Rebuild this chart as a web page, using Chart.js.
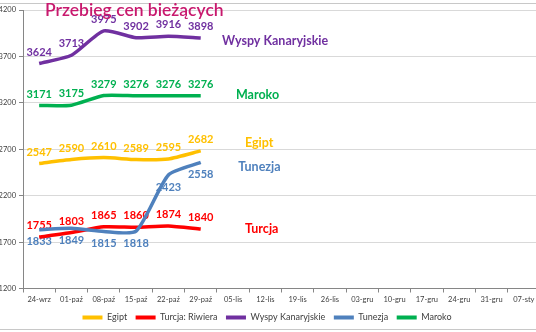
<!DOCTYPE html>
<html>
<head>
<meta charset="utf-8">
<script src="https://cdn.jsdelivr.net/npm/chart.js@4/dist/chart.umd.min.js"></script>
<style>
  html, body { margin: 0; padding: 0; background: #fff; overflow: hidden; width: 536px; height: 332px; }
  #wrap { position: absolute; left: -6px; top: 0; width: 548px; height: 332px; }
</style>
</head>
<body>
<div id="wrap"><canvas id="c" width="548" height="332"></canvas></div>
<script>
// Weekly price tracking, Sep–Jan
const weeks = ['24-wrz', '01-paź', '08-paź', '15-paź', '22-paź', '29-paź', '05-lis', '12-lis',
               '19-lis', '26-lis', '03-gru', '10-gru', '17-gru', '24-gru', '31-gru', '07-sty'];
const egipt   = [2547, 2590, 2610, 2589, 2595, 2682];
const turcja  = [1755, 1803, 1865, 1860, 1874, 1840];
const wyspy   = [3624, 3713, 3975, 3902, 3916, 3898];
const tunezja = [1833, 1849, 1815, 1818, 2423, 2558];
const maroko  = [3171, 3175, 3279, 3276, 3276, 3276];
const yMin = 1200, yMax = 4200, yStep = 500;

const C_EGIPT = '#FFC000', C_TURCJA = '#FF0000', C_WYSPY = '#7030A0', C_TUNEZJA = '#4F81BD', C_MAROKO = '#00B050';
const FONT = 'Lato, "Open Sans", sans-serif';

function series(label, data, color, extra) {
  return Object.assign({
    label, data,
    borderColor: color, backgroundColor: color,
    borderWidth: 3.5, tension: 0.2,
    pointRadius: 0, pointHoverRadius: 0,
    fill: false, order: 1
  }, extra || {});
}

// Value labels on each point (below for Tunezja, above for the rest)
const valueLabels = {
  id: 'valueLabels',
  beforeDatasetsDraw(chart) {
    const ctx = chart.ctx;
    ctx.save();
    ctx.font = 'bold 11px ' + FONT;
    ctx.textAlign = 'center';
    ctx.textBaseline = 'middle';
    chart.data.datasets.forEach((ds, di) => {
      const meta = chart.getDatasetMeta(di);
      const below = ds.label === 'Tunezja';
      ctx.fillStyle = ds.borderColor;
      meta.data.forEach((pt, i) => {
        const v = ds.data[i];
        if (v == null) return;
        ctx.fillText(String(v), pt.x, pt.y + (below ? 12 : -11.5));
      });
    });
    ctx.restore();
  }
};

// Series names written next to the lines, title and outer frame
const decorations = {
  id: 'decorations',
  beforeDraw(chart) {
    const ctx = chart.ctx;
    ctx.save();
    ctx.strokeStyle = '#C8C8C8';
    ctx.lineWidth = 1;
    ctx.beginPath();
    ctx.moveTo(0, 3.5); ctx.lineTo(chart.width, 3.5);
    ctx.moveTo(0, 329.5); ctx.lineTo(chart.width, 329.5);
    ctx.stroke();
    ctx.restore();
  },
  afterDraw(chart, args, opts) {
    const ctx = chart.ctx;
    const xs = chart.scales.x, ys = chart.scales.y;
    ctx.save();
    ctx.font = 'bold 12.5px ' + FONT;
    ctx.textAlign = 'left';
    ctx.textBaseline = 'middle';
    opts.names.forEach(n => {
      ctx.fillStyle = n.color;
      ctx.fillText(n.text, xs.getPixelForValue(n.at), ys.getPixelForValue(n.value));
    });
    ctx.font = '600 17.5px ' + FONT;
    ctx.fillStyle = '#C8196E';
    ctx.textBaseline = 'middle';
    ctx.fillText('Przebieg cen bieżących', 51, 10);
    ctx.restore();
  }
};

new Chart(document.getElementById('c'), {
  type: 'line',
  data: {
    labels: weeks,
    datasets: [
      series('Egipt', egipt, C_EGIPT),
      series('Turcja: Riwiera', turcja, C_TURCJA),
      series('Wyspy Kanaryjskie', wyspy, C_WYSPY),
      series('Tunezja', tunezja, C_TUNEZJA, { order: 0 }),
      series('Maroko', maroko, C_MAROKO)
    ]
  },
  options: {
    responsive: false,
    devicePixelRatio: 1,
    animation: false,
    layout: { padding: { top: 10, right: 2, left: 0, bottom: 0 } },
    scales: {
      x: {
        type: 'category',
        offset: true,
        grid: { offset: true, drawOnChartArea: false, drawTicks: true, tickLength: 4, color: '#868686' },
        border: { color: '#868686' },
        ticks: { autoSkip: false, maxRotation: 0, padding: 3, color: '#404040', font: { family: FONT, size: 7.5 } },
        afterFit(s) { s.height = 16; }
      },
      y: {
        min: yMin, max: yMax,
        ticks: {
          stepSize: yStep, padding: 3, color: '#404040', font: { family: FONT, size: 7.5 },
          callback: v => String(v)
        },
        grid: { color: '#D9D9D9', tickColor: '#868686', tickLength: 4 },
        border: { color: '#868686' },
        afterFit(s) { s.width = 29; }
      }
    },
    plugins: {
      tooltip: { enabled: false },
      legend: {
        position: 'bottom',
        labels: {
          boxWidth: 20, boxHeight: 4, padding: 8.5,
          color: '#404040',
          font: { family: FONT, size: 9 },
          sort: (a, b) => a.datasetIndex - b.datasetIndex,
          generateLabels(chart) {
            return Chart.defaults.plugins.legend.labels.generateLabels(chart)
              .map(l => Object.assign(l, { lineWidth: 0, fillStyle: l.strokeStyle }));
          }
        }
      },
      decorations: {
        names: [
          { text: 'Wyspy Kanaryjskie', color: C_WYSPY, at: 5.66, value: 3867 },
          { text: 'Maroko', color: C_MAROKO, at: 6.09, value: 3286 },
          { text: 'Egipt', color: C_EGIPT, at: 6.37, value: 2770 },
          { text: 'Tunezja', color: C_TUNEZJA, at: 6.16, value: 2512 },
          { text: 'Turcja', color: C_TURCJA, at: 6.37, value: 1845 }
        ]
      }
    }
  },
  plugins: [valueLabels, decorations]
});
</script>
</body>
</html>
